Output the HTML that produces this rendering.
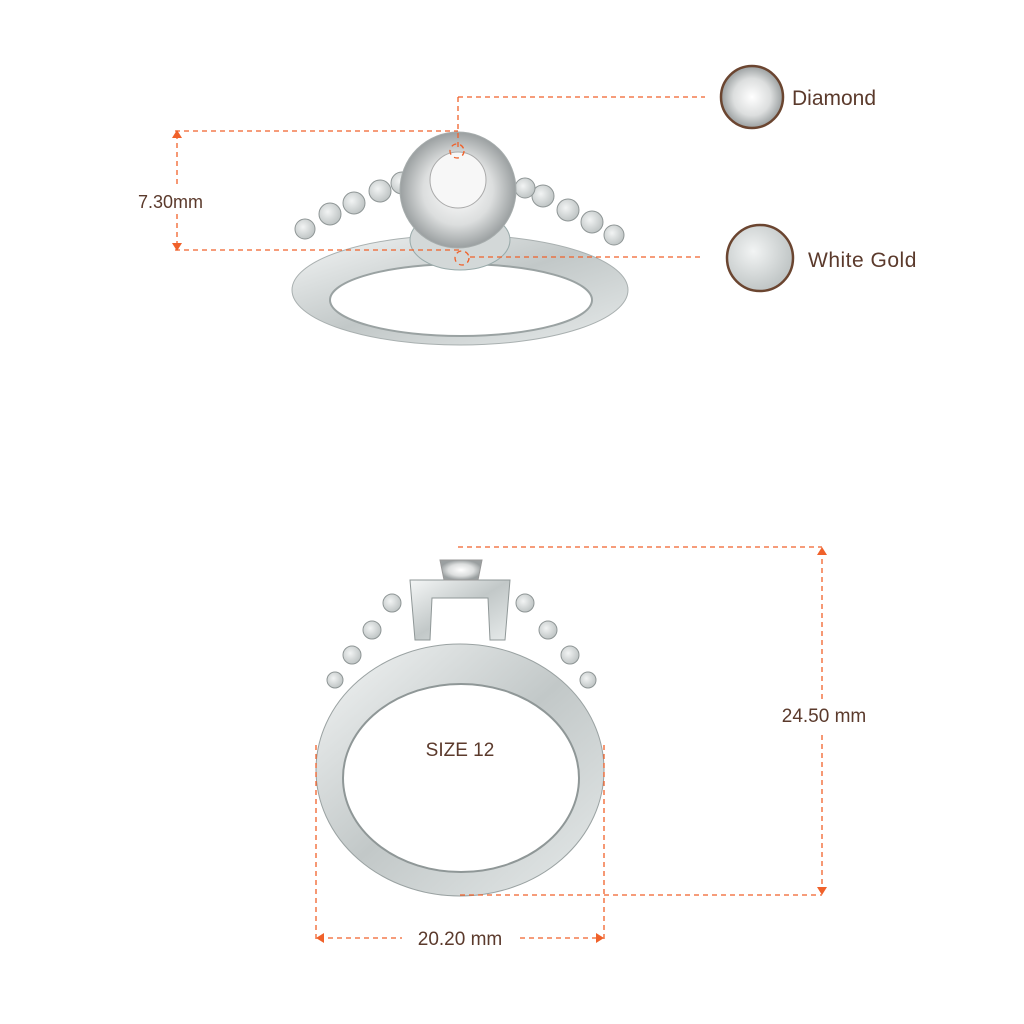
<!DOCTYPE html>
<html><head><style>body{margin:0;background:#fff}svg{display:block}text{font-family:"Liberation Sans",sans-serif;fill:#5b3a2c}</style></head>
<body>
<svg width="1024" height="1024" viewBox="0 0 1024 1024" xmlns="http://www.w3.org/2000/svg">
<defs>
<linearGradient id="m" x1="0" y1="0" x2="1" y2="1"><stop offset="0" stop-color="#f4f6f6"/><stop offset=".5" stop-color="#c2c8c8"/><stop offset="1" stop-color="#e6eaea"/></linearGradient>
<radialGradient id="g" cx=".4" cy=".4" r=".7"><stop offset="0" stop-color="#f2f4f4"/><stop offset="1" stop-color="#b8bebe"/></radialGradient>
<radialGradient id="d" cx=".5" cy=".5" r=".5"><stop offset="0" stop-color="#fff"/><stop offset=".6" stop-color="#dcdede"/><stop offset="1" stop-color="#9a9fa0"/></radialGradient>
</defs>
<!-- top ring band -->
<ellipse cx="460" cy="290" rx="168" ry="55" fill="url(#m)" stroke="#a9b0b0"/>
<ellipse cx="461" cy="300" rx="131" ry="36" fill="#fff" stroke="#9aa2a2" stroke-width="2"/>
<g fill="url(#g)" stroke="#8f9696">
<circle cx="305" cy="229" r="10"/><circle cx="330" cy="214" r="11"/><circle cx="354" cy="203" r="11"/><circle cx="380" cy="191" r="11"/><circle cx="402" cy="183" r="11"/>
<circle cx="614" cy="235" r="10"/><circle cx="592" cy="222" r="11"/><circle cx="568" cy="210" r="11"/><circle cx="543" cy="196" r="11"/><circle cx="525" cy="188" r="10"/>
</g>
<ellipse cx="460" cy="240" rx="50" ry="30" fill="#d3d8d8" stroke="#9aa"/>
<circle cx="458" cy="190" r="58" fill="url(#d)" stroke="#a7adad"/>
<circle cx="458" cy="180" r="28" fill="#f7f7f7" stroke="#aaa"/>
<g stroke="#f0612a" stroke-width="1.3" stroke-dasharray="5,4" fill="none">
<line x1="175" y1="131" x2="458" y2="131"/><line x1="458" y1="97" x2="458" y2="150"/><line x1="458" y1="97" x2="705" y2="97"/>
<line x1="175" y1="250" x2="463" y2="250"/><line x1="470" y1="257" x2="700" y2="257"/>
<line x1="177" y1="134" x2="177" y2="186"/><line x1="177" y1="214" x2="177" y2="247"/>
<circle cx="457" cy="151" r="7"/><circle cx="462" cy="258" r="7"/>
</g>
<g fill="#f0612a"><path d="M172 138L177 130L182 138Z"/><path d="M172 243L177 251L182 243Z"/></g>
<text x="138" y="208" font-size="18">7.30mm</text>
<circle cx="752" cy="97" r="31" fill="url(#d)" stroke="#6b4530" stroke-width="2.5"/>
<text x="792" y="105" font-size="21">Diamond</text>
<circle cx="760" cy="258" r="33" fill="url(#g)" stroke="#6b4530" stroke-width="2.5"/>
<text x="808" y="267" font-size="21" letter-spacing="0.5">White  Gold</text>
<!-- bottom ring -->
<ellipse cx="460" cy="770" rx="144" ry="126" fill="url(#m)" stroke="#9aa2a2"/>
<ellipse cx="461" cy="778" rx="118" ry="94" fill="#fff" stroke="#8f9797" stroke-width="2"/>
<g fill="url(#g)" stroke="#8f9696">
<circle cx="335" cy="680" r="8"/><circle cx="352" cy="655" r="9"/><circle cx="372" cy="630" r="9"/><circle cx="392" cy="603" r="9"/>
<circle cx="588" cy="680" r="8"/><circle cx="570" cy="655" r="9"/><circle cx="548" cy="630" r="9"/><circle cx="525" cy="603" r="9"/>
</g>
<path d="M410 580L510 580L505 640L490 640L488 598L432 598L430 640L415 640Z" fill="url(#m)" stroke="#8f9797"/>
<path d="M440 560L482 560L478 580L444 580Z" fill="url(#d)" stroke="#999"/>
<text x="460" y="756" font-size="19" text-anchor="middle">SIZE 12</text>
<g stroke="#f0612a" stroke-width="1.3" stroke-dasharray="5,4" fill="none">
<line x1="458" y1="547" x2="822" y2="547"/><line x1="460" y1="895" x2="822" y2="895"/>
<line x1="822" y1="550" x2="822" y2="700"/><line x1="822" y1="735" x2="822" y2="892"/>
<line x1="316" y1="745" x2="316" y2="942"/><line x1="604" y1="745" x2="604" y2="942"/>
<line x1="319" y1="938" x2="402" y2="938"/><line x1="520" y1="938" x2="601" y2="938"/>
</g>
<g fill="#f0612a"><path d="M817 555L822 547L827 555Z"/><path d="M817 887L822 895L827 887Z"/><path d="M324 933L316 938L324 943Z"/><path d="M596 933L604 938L596 943Z"/></g>
<text x="824" y="722" font-size="19" text-anchor="middle">24.50 mm</text>
<text x="460" y="945" font-size="19" text-anchor="middle">20.20 mm</text>
</svg>
</body></html>
